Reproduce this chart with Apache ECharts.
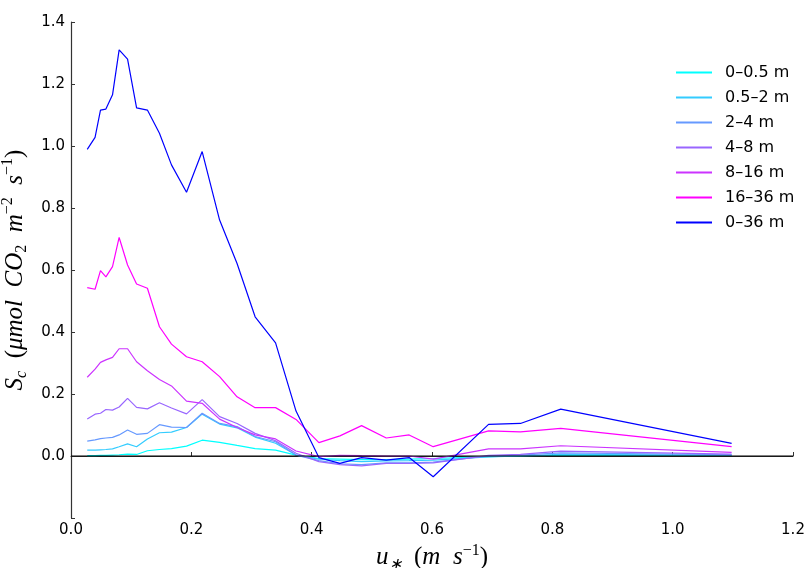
<!DOCTYPE html>
<html>
<head>
<meta charset="utf-8">
<script src="https://cdn.jsdelivr.net/npm/echarts@6/dist/echarts.min.js"></script>
<style>
html,body{margin:0;padding:0;background:#fff;}
#chart{width:806px;height:568px;}
</style>
</head>
<body>
<div id="chart"></div>
<script>
// u* bin centres (m s^-1)
const uStar = [0.027, 0.040, 0.049, 0.058, 0.069, 0.080, 0.094, 0.109, 0.127, 0.147, 0.167, 0.192, 0.218, 0.247, 0.276, 0.306, 0.340, 0.374, 0.412, 0.447, 0.483, 0.524, 0.562, 0.602, 0.694, 0.747, 0.814, 1.098];

const seriesNames = ["0–0.5 m", "0.5–2 m", "2–4 m", "4–8 m", "8–16 m", "16–36 m", "0–36 m"];

const s_0_05  = [0.001, 0.001, 0.002, 0.002, 0.003, 0.004, 0.006, 0.005, 0.017, 0.021, 0.024, 0.032, 0.051, 0.044, 0.034, 0.024, 0.019, 0.003, -0.008, -0.010, -0.012, -0.012, -0.010, -0.008, -0.002, 0.000, 0.003, 0.002];
const s_05_2  = [0.019, 0.019, 0.020, 0.021, 0.023, 0.030, 0.039, 0.030, 0.055, 0.075, 0.077, 0.092, 0.135, 0.103, 0.091, 0.061, 0.041, 0.003, -0.010, -0.015, -0.018, -0.016, -0.015, -0.013, -0.003, 0.000, 0.005, 0.002];
const s_2_4   = [0.048, 0.052, 0.056, 0.058, 0.060, 0.068, 0.084, 0.070, 0.073, 0.101, 0.093, 0.092, 0.138, 0.105, 0.095, 0.063, 0.046, 0.003, -0.015, -0.025, -0.028, -0.022, -0.022, -0.020, 0.000, 0.003, 0.010, 0.004];
const s_4_8   = [0.119, 0.135, 0.138, 0.150, 0.148, 0.158, 0.186, 0.157, 0.152, 0.172, 0.155, 0.136, 0.182, 0.127, 0.105, 0.073, 0.049, 0.009, -0.018, -0.028, -0.032, -0.024, -0.024, -0.022, 0.002, 0.005, 0.016, 0.006];
const s_8_16  = [0.254, 0.280, 0.302, 0.310, 0.318, 0.346, 0.346, 0.304, 0.275, 0.247, 0.226, 0.177, 0.170, 0.119, 0.092, 0.068, 0.055, 0.016, -0.002, 0.002, 0.001, 0.000, 0.000, -0.010, 0.023, 0.023, 0.033, 0.012];
const s_16_36 = [0.543, 0.538, 0.598, 0.578, 0.611, 0.705, 0.616, 0.555, 0.541, 0.417, 0.361, 0.320, 0.304, 0.256, 0.191, 0.156, 0.156, 0.118, 0.043, 0.065, 0.098, 0.058, 0.068, 0.030, 0.081, 0.078, 0.089, 0.030];
const s_0_36  = [0.989, 1.028, 1.116, 1.119, 1.165, 1.310, 1.280, 1.123, 1.116, 1.041, 0.939, 0.851, 0.982, 0.761, 0.621, 0.449, 0.365, 0.145, -0.005, -0.024, -0.005, -0.013, -0.005, -0.067, 0.102, 0.105, 0.151, 0.041];

const seriesColors = ["#00ffff", "#33ccff", "#6699ff", "#9966ff", "#cc33ff", "#ff00ff", "#0000ff"];

// zero reference line
const zeroX = [0, 1.2];
const zeroY = [0, 0];

const xTicks = ["0.0", "0.2", "0.4", "0.6", "0.8", "1.0", "1.2"];
const yTicks = ["0.0", "0.2", "0.4", "0.6", "0.8", "1.0", "1.2", "1.4"];

const allValues = [s_0_05, s_05_2, s_2_4, s_4_8, s_8_16, s_16_36, s_0_36];

const chart = echarts.init(document.getElementById('chart'), null, {renderer: 'canvas'});

const FS = 25, FSS = 16;
const mathRich = {
  i: {fontFamily: 'Liberation Serif', fontStyle: 'italic', fontSize: FS, lineHeight: 30, verticalAlign: 'middle', color: '#000'},
  n: {fontFamily: 'Liberation Serif', fontSize: FS, lineHeight: 30, verticalAlign: 'middle', color: '#000'},
  sub: {fontFamily: 'Liberation Serif', fontStyle: 'italic', fontSize: FSS, lineHeight: 16, verticalAlign: 'bottom', color: '#000'},
  subn: {fontFamily: 'Liberation Serif', fontSize: FSS, lineHeight: 16, verticalAlign: 'bottom', color: '#000'},
  sup: {fontFamily: 'Liberation Serif', fontSize: FSS, lineHeight: 16, verticalAlign: 'top', color: '#000'}
};

const lineSeries = allValues.map((vals, k) => ({
  name: seriesNames[k],
  type: 'line',
  data: uStar.map((u, i) => [u, vals[i]]),
  symbol: 'none',
  showSymbol: false,
  lineStyle: {color: seriesColors[k], width: 1.2},
  itemStyle: {color: seriesColors[k]},
  emphasis: {disabled: true},
  z: 2 + k
}));

lineSeries.push({
  name: 'zero',
  type: 'line',
  data: zeroX.map((x, i) => [x, zeroY[i]]),
  symbol: 'none',
  showSymbol: false,
  lineStyle: {color: '#000', width: 1.2},
  emphasis: {disabled: true},
  z: 20
});

const option = {
  animation: false,
  backgroundColor: '#fff',
  grid: {left: 71, right: 13, top: 22, bottom: 50, containLabel: false, outerBoundsMode: 'none'},
  legend: {
    data: seriesNames.map(n => ({name: n, icon: 'rect'})),
    orient: 'vertical',
    left: 676,
    top: 60,
    padding: 0,
    itemWidth: 36,
    itemHeight: 2,
    itemGap: 0,
    formatter: n => '{t|' + n + '}',
    textStyle: {
      fontFamily: 'DejaVu Sans', fontSize: 16, color: '#000', lineHeight: 25,
      rich: {t: {fontFamily: 'DejaVu Sans', fontSize: 16, color: '#000', lineHeight: 25, padding: [0, 0, 0, 8]}}
    },
    selectedMode: false
  },
  xAxis: {
    type: 'value',
    min: 0, max: 1.2, interval: 0.2,
    name: '{i|u}{sub|∗}{n|  (}{i|m  s}{sup|−1}{n|)}',
    nameLocation: 'middle',
    nameGap: 23,
    nameTextStyle: {rich: mathRich},
    axisLine: {show: true, lineStyle: {color: '#333', width: 1.2}},
    axisTick: {show: true, inside: true, length: 4, lineStyle: {color: '#333'}},
    axisLabel: {
      fontFamily: 'DejaVu Sans', fontSize: 15, color: '#000', margin: 5,
      formatter: v => xTicks[Math.round(v / 0.2)] || ''
    },
    splitLine: {show: false}
  },
  yAxis: {
    type: 'value',
    min: -0.2, max: 1.4, interval: 0.2,
    name: '{i|S}{sub|c}{n|  (}{i|μmol  CO}{subn|2}{i|  m}{sup|−2}{i|  s}{sup|−1}{n|)}',
    nameLocation: 'middle',
    nameRotate: 90,
    nameGap: 24,
    nameTextStyle: {rich: mathRich},
    axisLine: {show: true, lineStyle: {color: '#333', width: 1.2}},
    axisTick: {show: true, inside: true, length: 4, lineStyle: {color: '#333'}},
    axisLabel: {
      fontFamily: 'DejaVu Sans', fontSize: 15, color: '#000', margin: 6,
      formatter: v => (v < -0.01 ? '' : (yTicks[Math.round(v / 0.2)] || ''))
    },
    splitLine: {show: false}
  },
  series: lineSeries
};

chart.setOption(option);
</script>
</body>
</html>
